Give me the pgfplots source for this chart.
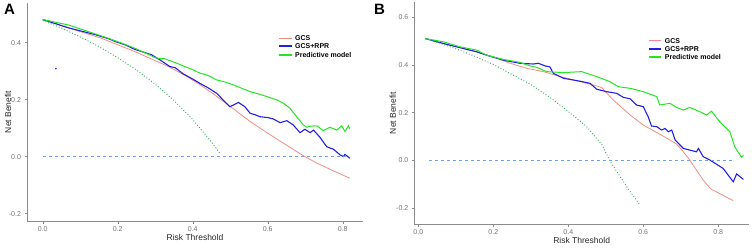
\documentclass[border=0pt]{standalone}
\usepackage{fontspec}
\setmainfont{Liberation Sans}
\usepackage{pgfplots}
\pgfplotsset{compat=1.18}
\definecolor{gcs}{HTML}{F08C84}
\definecolor{rpr}{HTML}{2020E6}
\definecolor{pred}{HTML}{22E622}
\definecolor{tall}{HTML}{2EAA5E}
\definecolor{tnone}{HTML}{6F9FF0}
\pgfplotsset{dca/.style={
  scale only axis, axis lines*=left,
  axis line style={black!45, line width=0.6pt},
  tick style={black!45, line width=0.5pt},
  tick align=outside, major tick length=2.5pt,
  xtick={0,0.2,0.4,0.6,0.8}, xticklabels={0.0,0.2,0.4,0.6,0.8},
  ticklabel style={font=\fontsize{7}{8}\selectfont, text=black!55},
  label style={font=\fontsize{8.5}{10}\selectfont, text=black!85},
  xlabel={Risk Threshold}, ylabel={Net Benefit},
  clip=false,
}}
\tikzset{lg/.style={anchor=west, inner sep=0pt, font=\bfseries\fontsize{7}{8}\selectfont}}
\begin{document}
\begin{tikzpicture}
\begin{axis}[dca, at={(27pt,26pt)}, anchor=south west, width=336pt, height=218pt,
  xmin=-0.042, xmax=0.854, ymin=-0.226, ymax=0.539,
  ytick={-0.2,0,0.2,0.4}, yticklabels={-0.2,0.0,0.2,0.4},
  xlabel style={at={(axis description cs:0.5,-0.0757)}, anchor=center, inner sep=0pt},
  ylabel style={at={(axis description cs:-0.0565,0.5)}, anchor=center, inner sep=0pt}]
\addplot[gcs, line width=0.8pt] coordinates {
(0,0.481)(0.068,0.452)(0.157,0.415)(0.246,0.368)(0.291,0.342)(0.335,0.316)
(0.375,0.288)(0.42,0.252)(0.464,0.211)(0.5,0.176)(0.553,0.123)(0.6,0.082)
(0.642,0.047)(0.695,0.003)(0.731,-0.023)(0.78,-0.053)(0.819,-0.076)};
\addplot[rpr, line width=1.1pt] coordinates {
(0,0.481)(0.068,0.452)(0.14,0.428)(0.157,0.421)(0.175,0.414)(0.193,0.404)(0.22,0.392)
(0.246,0.376)(0.27,0.366)(0.291,0.357)(0.305,0.345)(0.31,0.342)(0.313,0.339)
(0.339,0.316)(0.353,0.312)(0.375,0.290)(0.4,0.272)(0.419,0.257)(0.44,0.242)
(0.464,0.222)(0.48,0.200)(0.499,0.175)(0.51,0.182)(0.522,0.190)(0.53,0.183)(0.539,0.175)
(0.553,0.152)(0.566,0.147)(0.579,0.140)(0.6,0.137)(0.615,0.132)(0.633,0.119)
(0.651,0.126)(0.668,0.111)(0.686,0.084)(0.699,0.096)(0.713,0.084)(0.722,0.093)
(0.739,0.068)(0.757,0.035)(0.766,0.030)(0.775,0.026)(0.793,0.006)(0.802,0.000)
(0.806,0.008)(0.819,-0.006)};
\addplot[pred, line width=1pt] coordinates {
(0,0.481)(0.068,0.462)(0.139,0.431)(0.175,0.415)(0.211,0.398)(0.246,0.380)
(0.286,0.356)(0.3,0.347)(0.317,0.343)(0.322,0.345)(0.353,0.330)(0.375,0.318)
(0.4,0.305)(0.419,0.293)(0.44,0.285)(0.464,0.269)(0.485,0.262)(0.508,0.252)(0.53,0.240)
(0.553,0.228)(0.575,0.220)(0.597,0.211)(0.624,0.199)(0.642,0.187)(0.659,0.170)
(0.677,0.140)(0.695,0.111)(0.704,0.103)(0.715,0.107)(0.731,0.108)(0.748,0.091)
(0.766,0.103)(0.784,0.093)(0.797,0.108)(0.806,0.088)(0.815,0.108)(0.819,0.096)};
\addplot[tall, line width=0.9pt, dotted] coordinates {
(0,0.478)(0.05,0.451)(0.1,0.420)(0.15,0.386)(0.2,0.347)(0.25,0.304)
(0.3,0.254)(0.35,0.197)(0.4,0.130)(0.45,0.051)(0.472,0.012)};
\addplot[tnone, line width=0.8pt, dashed] coordinates {(0,0)(0.816,0)};
\addplot[only marks, mark=*, mark size=0.6pt, rpr] coordinates {(0.035,0.309)};
\end{axis}
\begin{axis}[dca, at={(414.3pt,23pt)}, anchor=south west, width=334.7pt, height=222pt,
  xmin=-0.0107, xmax=0.882, ymin=-0.267, ymax=0.664,
  ytick={-0.2,0,0.2,0.4,0.6}, yticklabels={-0.2,0.0,0.2,0.4,0.6},
  xlabel style={at={(axis description cs:0.5,-0.072)}, anchor=center, inner sep=0pt},
  ylabel style={at={(axis description cs:-0.0645,0.5)}, anchor=center, inner sep=0pt}]
\addplot[gcs, line width=0.8pt] coordinates {
(0.018,0.511)(0.067,0.490)(0.156,0.455)(0.2,0.434)(0.245,0.407)(0.289,0.386)
(0.333,0.372)(0.387,0.348)(0.432,0.330)(0.476,0.312)(0.489,0.305)(0.52,0.253)
(0.565,0.190)(0.6,0.148)(0.653,0.102)(0.689,0.068)(0.707,0.036)(0.724,0.001)
(0.76,-0.083)(0.78,-0.120)(0.84,-0.169)};
\addplot[rpr, line width=1.1pt] coordinates {
(0.018,0.511)(0.067,0.490)(0.156,0.455)(0.182,0.441)(0.227,0.420)(0.271,0.407)
(0.307,0.404)(0.32,0.407)(0.338,0.396)(0.351,0.392)(0.36,0.365)(0.387,0.344)
(0.431,0.332)(0.458,0.323)(0.476,0.298)(0.502,0.288)(0.529,0.281)(0.547,0.264)
(0.565,0.258)(0.582,0.232)(0.6,0.225)(0.613,0.183)(0.622,0.144)(0.636,0.141)
(0.649,0.127)(0.658,0.134)(0.667,0.120)(0.676,0.127)(0.685,0.085)(0.707,0.050)
(0.724,0.043)(0.742,0.036)(0.747,0.050)(0.76,0.015)(0.778,0.001)(0.813,-0.034)
(0.84,-0.090)(0.849,-0.057)(0.867,-0.080)};
\addplot[pred, line width=1pt] coordinates {
(0.018,0.511)(0.067,0.497)(0.111,0.476)(0.156,0.462)(0.182,0.441)(0.227,0.423)
(0.271,0.411)(0.298,0.396)(0.316,0.390)(0.342,0.372)(0.387,0.368)(0.436,0.372)
(0.476,0.351)(0.511,0.330)(0.533,0.309)(0.565,0.302)(0.6,0.288)(0.636,0.267)
(0.644,0.232)(0.671,0.239)(0.689,0.222)(0.707,0.211)(0.724,0.222)(0.751,0.204)
(0.769,0.190)(0.782,0.206)(0.804,0.162)(0.831,0.120)(0.844,0.057)(0.862,0.013)
(0.867,0.022)};
\addplot[tall, line width=0.9pt, dotted] coordinates {
(0.018,0.511)(0.05,0.495)(0.1,0.468)(0.15,0.437)(0.2,0.402)(0.25,0.360)
(0.3,0.318)(0.35,0.265)(0.4,0.205)(0.45,0.140)(0.49,0.065)(0.51,0.0)
(0.54,-0.072)(0.56,-0.120)(0.59,-0.185)};
\addplot[tnone, line width=0.8pt, dashed] coordinates {(0.029,0)(0.845,0)};
\end{axis}
% legends
\draw[gcs, line width=1.2pt] (279pt,208.7pt) -- (292pt,208.7pt);
\draw[rpr, line width=1.6pt] (279pt,201pt) -- (292pt,201pt);
\draw[pred, line width=1.6pt] (279pt,192.3pt) -- (292pt,192.3pt);
\node[lg] at (295pt,208.7pt) {GCS};
\node[lg] at (295pt,201pt) {GCS+RPR};
\node[lg] at (295pt,192.3pt) {Predictive model};
\draw[gcs, line width=1.2pt] (649pt,206.3pt) -- (661pt,206.3pt);
\draw[rpr, line width=1.6pt] (649pt,198.3pt) -- (661pt,198.3pt);
\draw[pred, line width=1.6pt] (649pt,190.3pt) -- (661pt,190.3pt);
\node[lg] at (664.7pt,206.3pt) {GCS};
\node[lg] at (664.7pt,198.3pt) {GCS+RPR};
\node[lg] at (664.7pt,190.3pt) {Predictive model};
\node[anchor=north west, inner sep=0pt, font=\bfseries\fontsize{15}{15}\selectfont] at (4pt,243pt) {A};
\node[anchor=north west, inner sep=0pt, font=\bfseries\fontsize{15}{15}\selectfont] at (374pt,243pt) {B};
\pgfresetboundingbox
\useasboundingbox (0,0) rectangle (752pt,247pt);
\end{tikzpicture}
\end{document}
